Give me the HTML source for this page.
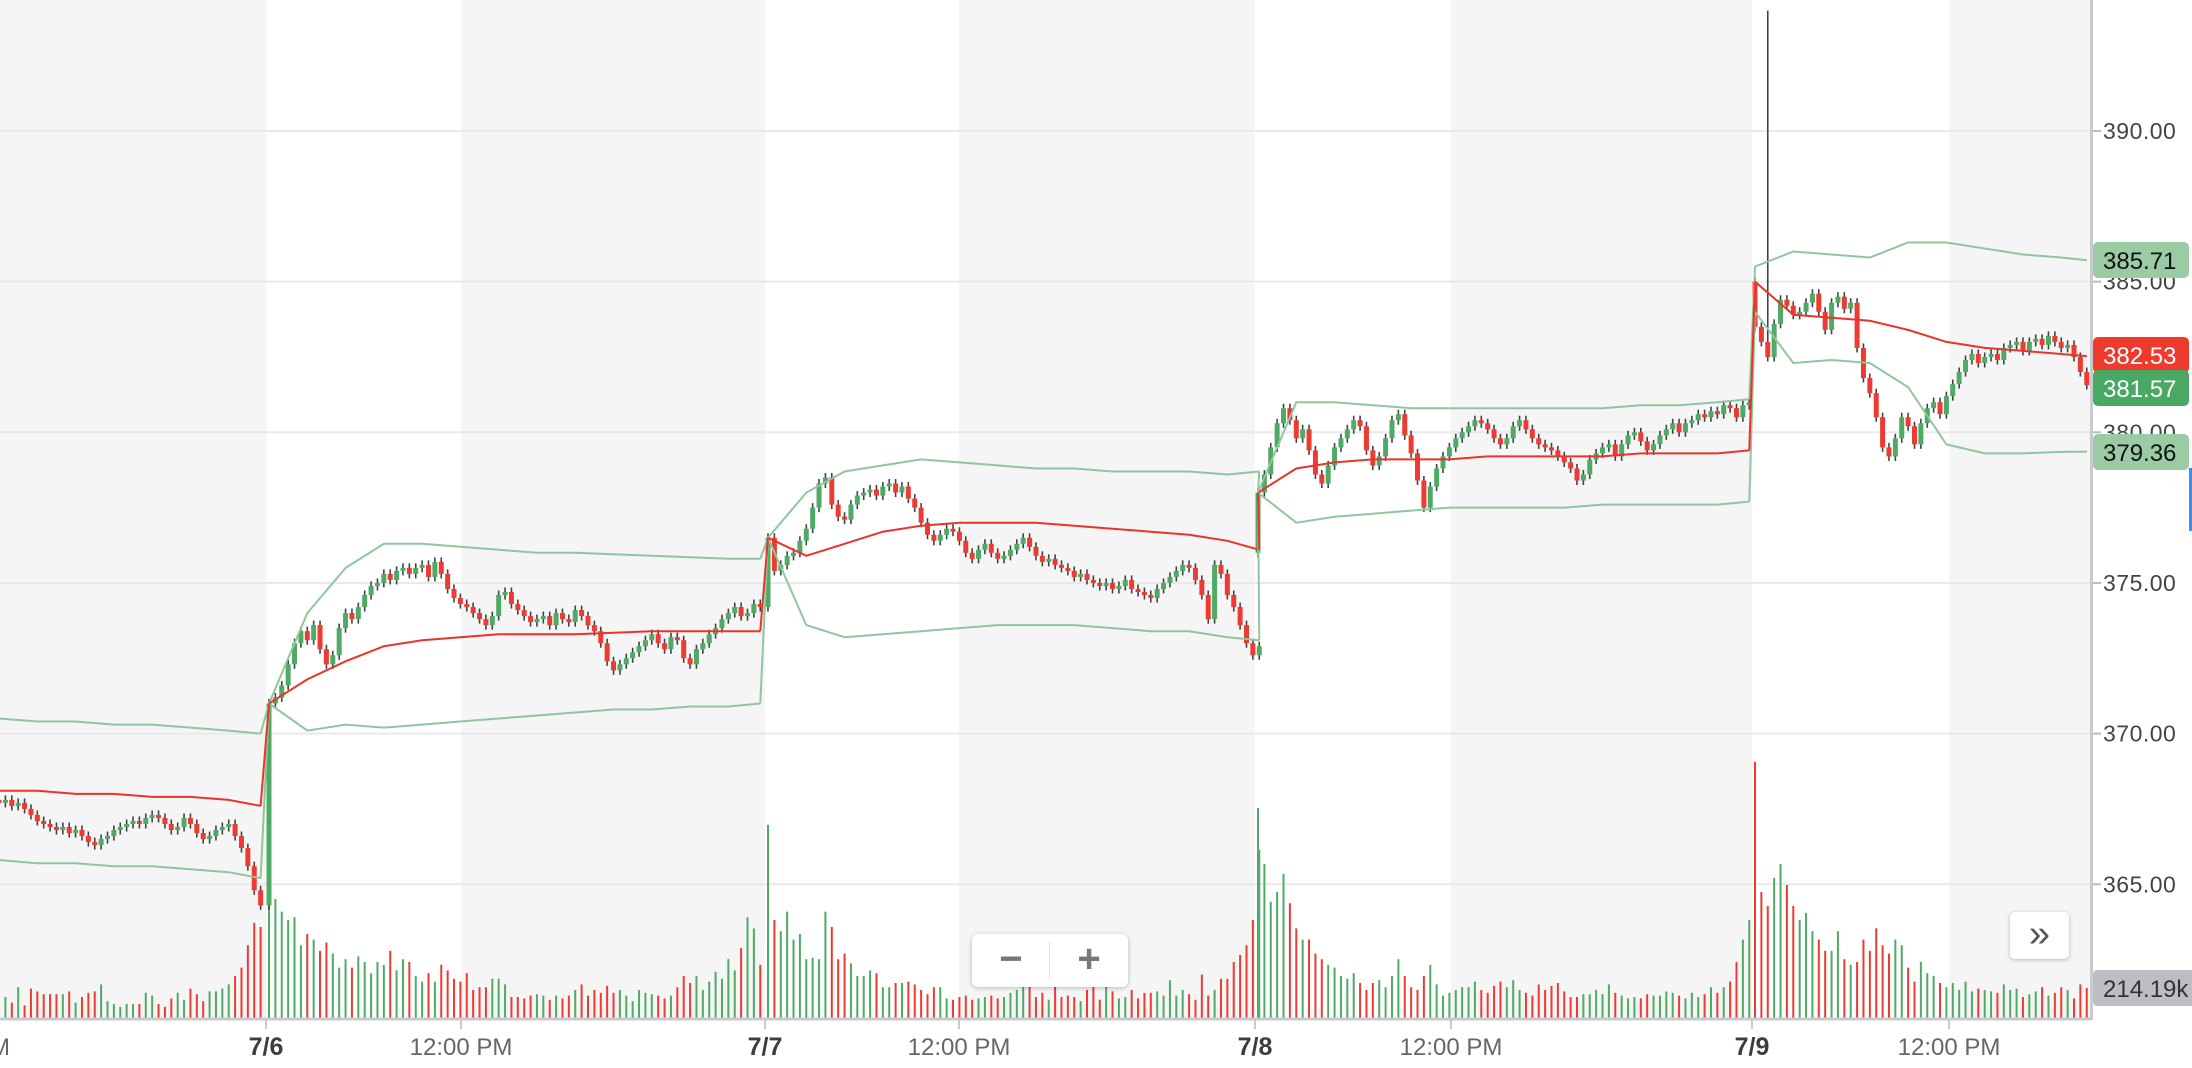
<!DOCTYPE html>
<html><head><meta charset="utf-8">
<style>
html,body{margin:0;padding:0;background:#fff;}
body{width:2192px;height:1068px;overflow:hidden;position:relative;font-family:"Liberation Sans",sans-serif;}
svg{position:absolute;left:0;top:0;}
</style></head>
<body>
<svg id="chart" width="2192" height="1068" xmlns="http://www.w3.org/2000/svg"></svg>
<div style="position:absolute;left:972px;top:934px;width:156px;height:53px;background:#fff;border-radius:6px;box-shadow:0 1px 5px rgba(0,0,0,0.25);">
  <div style="position:absolute;left:0;top:0;width:78px;height:53px;text-align:center;line-height:50px;font-size:40px;font-weight:bold;color:#777;">−</div>
  <div style="position:absolute;left:77px;top:8px;width:1px;height:37px;background:#ddd;"></div>
  <div style="position:absolute;left:78px;top:0;width:78px;height:53px;text-align:center;line-height:50px;font-size:40px;font-weight:bold;color:#777;">+</div>
</div>
<div style="position:absolute;left:2010px;top:912px;width:59px;height:47px;background:#fff;border-radius:5px;box-shadow:0 1px 4px rgba(0,0,0,0.25);text-align:center;line-height:44px;font-size:38px;color:#555;">»</div>
<div style="position:absolute;left:2189px;top:468px;width:3px;height:63px;background:#3d8bf5;"></div>
<script>
// ---- data ----
const dayLabels = ["7/6","7/7","7/8","7/9"];
const timeLabels = ["12:00 PM","12:00 PM","12:00 PM","12:00 PM"];
const priceTicks = [390,385,380,375,370,365];
const preOpen = 367.8;
const preClose = [367.7,367.8,367.6,367.7,367.5,367.3,367.1,367.0,366.9,366.8,366.9,366.7,366.8,366.6,366.4,366.3,366.5,366.6,366.8,366.9,367.0,367.1,367.0,367.2,367.3,367.2,367.0,366.8,366.9,367.2,367.0,366.7,366.5,366.6,366.8,366.9,367.0,366.6,366.2,365.6,364.8,364.3];
const d1Close = [371.0,371.2,371.6,372.3,373.0,373.4,373.1,373.6,372.8,372.3,372.6,373.5,374.0,373.8,374.2,374.6,374.9,375.0,375.3,375.1,375.4,375.5,375.3,375.5,375.6,375.2,375.7,375.3,374.8,374.5,374.3,374.2,374.0,373.8,373.6,373.9,374.6,374.7,374.3,374.1,373.9,373.7,373.8,373.9,373.6,374.0,373.8,373.7,374.1,373.9,373.6,373.4,373.0,372.4,372.1,372.3,372.5,372.7,372.9,373.1,373.3,373.0,372.8,373.2,373.1,372.5,372.3,372.8,373.0,373.3,373.5,373.8,374.0,374.2,373.9,374.0,374.3,374.2];
const d2Close = [376.5,375.4,375.6,375.9,376.0,376.4,376.8,377.5,378.3,378.5,377.6,377.2,377.1,377.6,377.9,378.0,378.1,377.9,378.2,378.3,378.0,378.2,377.8,377.5,377.0,376.6,376.4,376.6,376.8,376.7,376.4,376.0,375.8,376.1,376.3,376.0,375.8,375.9,376.1,376.3,376.5,376.2,375.9,375.7,375.8,375.6,375.5,375.4,375.2,375.3,375.1,375.0,374.9,375.0,374.8,374.9,375.1,374.8,374.7,374.6,374.5,374.8,375.0,375.2,375.4,375.6,375.5,375.1,374.6,373.8,375.6,375.3,374.6,374.2,373.6,373.0,372.6,372.9];
const d3Close = [378.0,378.6,379.5,380.3,380.8,380.4,379.8,380.1,379.4,378.6,378.3,378.9,379.5,379.8,380.1,380.4,380.2,379.4,378.9,379.2,379.8,380.4,380.6,379.9,379.3,378.4,377.5,378.2,378.8,379.2,379.5,379.8,380.0,380.2,380.4,380.3,380.1,379.8,379.6,379.8,380.2,380.4,380.1,379.8,379.6,379.5,379.4,379.2,379.0,378.8,378.4,378.6,379.1,379.3,379.5,379.6,379.2,379.6,379.9,380.0,379.7,379.4,379.6,379.9,380.1,380.3,380.0,380.3,380.4,380.6,380.5,380.7,380.6,380.9,380.8,380.5,380.9,381.0];
const d4Close = [383.5,383.0,382.5,383.6,384.4,384.2,383.9,384.0,384.3,384.6,384.0,383.4,384.3,384.5,384.1,384.3,382.8,381.8,381.3,380.5,379.5,379.2,379.8,380.5,380.2,379.6,380.3,380.8,381.0,380.6,381.2,381.6,382.0,382.4,382.6,382.3,382.5,382.6,382.4,382.8,382.9,383.0,382.7,383.0,383.1,382.9,383.2,383.0,382.8,382.9,382.5,382.0,381.57];
const d4Open0 = 385.0;
const spikeHigh = 394.0;
const preVol = [60,150,110,220,90,210,190,170,170,170,170,190,110,150,180,190,240,120,100,80,100,100,100,180,160,100,80,140,180,130,210,170,120,190,190,210,240,300,360,520,680,650];
const d1Vol = [900,850,760,700,720,520,600,560,480,540,460,360,420,360,440,400,320,400,380,480,340,420,400,300,260,320,260,380,340,280,260,320,200,220,220,280,280,240,150,150,140,160,170,160,130,160,140,160,200,240,160,200,180,230,180,200,160,120,200,180,170,160,140,160,220,300,250,300,200,260,330,280,420,340,500,720,640,380];
const d2Vol = [1380,700,620,760,560,600,420,430,420,760,650,420,460,390,300,300,340,320,220,220,250,250,260,240,200,170,220,220,140,130,150,160,130,140,150,160,140,150,180,200,250,260,150,180,130,230,150,160,150,120,200,260,130,260,190,140,150,200,140,180,180,190,160,270,160,200,170,130,310,160,200,280,280,400,450,520,700,1200];
const d3Vol = [1500,1100,830,900,1030,820,640,560,560,460,420,380,360,300,280,320,250,200,250,270,220,300,420,300,220,200,300,380,240,160,180,200,220,220,260,200,180,230,260,220,270,200,180,160,240,200,230,250,190,150,150,170,170,200,170,240,180,160,140,150,140,170,160,160,190,180,160,140,180,150,170,220,180,220,260,400,560,700];
const d4Vol = [1830,900,800,1000,1100,950,800,700,750,620,560,480,480,620,420,380,400,560,480,640,520,460,560,520,360,260,400,320,300,250,220,250,200,260,190,210,200,190,180,240,200,210,150,170,190,220,160,180,220,200,140,240,214];
// VWAP & bands, sampled every 6 bars (last point = last bar)
const preVwap = [368.1,368.1,368.0,368.0,367.9,367.9,367.8,367.6];
const preUpper = [370.5,370.4,370.4,370.3,370.3,370.2,370.1,370.0];
const preLower = [365.8,365.7,365.7,365.6,365.6,365.5,365.4,365.2];
const d1Vwap = [371.0,371.8,372.4,372.9,373.1,373.2,373.3,373.3,373.3,373.35,373.4,373.4,373.4,373.4];
const d1Upper = [371.0,374.0,375.5,376.3,376.3,376.2,376.1,376.0,376.0,375.95,375.9,375.85,375.8,375.8];
const d1Lower = [371.0,370.1,370.3,370.2,370.3,370.4,370.5,370.6,370.7,370.8,370.8,370.9,370.9,371.0];
const d2Vwap = [376.5,375.9,376.3,376.7,376.9,377.0,377.0,377.0,376.9,376.8,376.7,376.6,376.4,376.1];
const d2Upper = [376.5,378.0,378.7,378.9,379.1,379.0,378.9,378.8,378.8,378.7,378.7,378.7,378.6,378.7];
const d2Lower = [376.5,373.6,373.2,373.3,373.4,373.5,373.6,373.6,373.6,373.5,373.4,373.4,373.2,373.1];
const d3Vwap = [378.0,378.8,379.0,379.1,379.1,379.1,379.2,379.2,379.2,379.2,379.3,379.3,379.3,379.4];
const d3Upper = [378.0,381.0,381.0,380.9,380.8,380.8,380.8,380.8,380.8,380.8,380.9,380.9,381.0,381.1];
const d3Lower = [378.0,377.0,377.2,377.3,377.4,377.5,377.5,377.5,377.5,377.6,377.6,377.6,377.6,377.7];
const d4Vwap = [385.0,383.9,383.8,383.7,383.4,383.0,382.8,382.7,382.6,382.53];
const d4Upper = [385.5,386.0,385.9,385.8,386.3,386.3,386.1,385.9,385.8,385.71];
const d4Lower = [384.0,382.3,382.4,382.3,381.5,379.6,379.3,379.3,379.35,379.36];
const lastLabels = [["385.71",385.71,"#9bcba5","#111"],["382.53",382.53,"#ee3b2e","#fff"],["381.57",381.57,"#4aa865","#fff"],["379.36",379.36,"#9bcba5","#111"]];
const volLabel = "214.19k";

// ---- layout ----
const NS="http://www.w3.org/2000/svg";
const svg=document.getElementById('chart');
const AX=2091, BASE=1018, STEP=6.38;
const dayStart=[266,765,1255,1752];
const noonX=[461,959,1451,1949];
const y=p=>131+(390-p)*30.13;
const vy=v=>BASE-v*0.14;
const GREEN="#4faa66", RED="#ee3b32", WICK="#3f434a";
function mk(tag,attrs,parent){const e=document.createElementNS(NS,tag);for(const k in attrs)e.setAttribute(k,attrs[k]);(parent||svg).appendChild(e);return e;}

const bands=[[0,266],[461,765],[959,1255],[1451,1752],[1949,AX]];
bands.forEach(b=>{const r=mk('rect',{x:b[0],y:0,width:b[1]-b[0],height:BASE,fill:'#f5f5f5'});

});

priceTicks.forEach(p=>{
  const l=mk('line',{x1:0,x2:AX,y1:y(p),y2:y(p),stroke:'#e9e9e9','stroke-width':2});
  
  
  mk('line',{x1:AX,x2:AX+10,y1:y(p),y2:y(p),stroke:'#bbb','stroke-width':2});
  const t=mk('text',{x:2103,y:y(p)+8,'font-size':23,fill:'#444','letter-spacing':'0.5'});t.textContent=p.toFixed(2);
  
  
});

const segs=[
 {x0:266-STEP*42-2,close:preClose,open0:preOpen,vol:preVol,vw:preVwap,up:preUpper,lo:preLower},
 {x0:dayStart[0],close:d1Close,open0:364.3,vol:d1Vol,vw:d1Vwap,up:d1Upper,lo:d1Lower},
 {x0:dayStart[1],close:d2Close,open0:374.2,vol:d2Vol,vw:d2Vwap,up:d2Upper,lo:d2Lower},
 {x0:dayStart[2],close:d3Close,open0:376.0,vol:d3Vol,vw:d3Vwap,up:d3Upper,lo:d3Lower},
 {x0:dayStart[3],close:d4Close,open0:d4Open0,vol:d4Vol,vw:d4Vwap,up:d4Upper,lo:d4Lower}
];
const gVol=mk('g',{});
const gC=mk('g',{});
const gL=mk('g',{});
segs.forEach((s,si)=>{
  const xs=i=>s.x0+3+i*STEP;
  let prev=s.open0;
  s.close.forEach((c,i)=>{
    const o=prev; prev=c;
    const up=c>=o, col=up?GREEN:RED, x=xs(i);
    const v=s.vol[i]||0;
    const vb=mk('rect',{x:x-1,y:vy(v),width:2,height:BASE-vy(v),fill:col},gVol);
    
    
    let hi=Math.max(o,c)+0.15, lo=Math.min(o,c)-0.15;
    if(si===4&&i===2) hi=spikeHigh;
    const w=mk('line',{x1:x,x2:x,y1:y(hi),y2:y(lo),stroke:WICK,'stroke-width':1.6},gC);
    
    
    const top=y(Math.max(o,c)), h=Math.max(2,Math.abs(y(o)-y(c)));
    const b=mk('rect',{x:x-2.5,y:top,width:5,height:h,fill:col},gC);
    
    
  });
  const n=s.close.length;
  const px=k=>xs(Math.min(k*6,n-1));
  [[s.up,'#8fc79c','upper-band'],[s.lo,'#8fc79c','lower-band'],[s.vw,'#e8352a','vwap-line']].forEach(a=>{
    const pts=a[0].map((p,k)=>px(k).toFixed(1)+','+y(p).toFixed(1)).join(' ');
    const pl=mk('polyline',{points:pts,fill:'none',stroke:a[1],'stroke-width':2},gL);
    
    
  });
});
for(let d=1;d<segs.length;d++){
  const a=segs[d-1],b=segs[d];
  const xa=a.x0+3+(a.close.length-1)*STEP, xb=b.x0+3;
  [['up','#8fc79c'],['lo','#8fc79c'],['vw','#e8352a']].forEach(k=>{
    const l=mk('line',{x1:xa,y1:y(a[k[0]][a[k[0]].length-1]),x2:xb,y2:y(b[k[0]][0]),stroke:k[1],'stroke-width':2},gL);
    
    
  });
}

mk('rect',{x:AX-1,y:0,width:3,height:BASE+2,fill:'#c8cacd'});
mk('line',{x1:0,x2:AX,y1:BASE+1,y2:BASE+1,stroke:'#c8cacd','stroke-width':3});
const tickT=(x,txt,bold)=>{
  mk('line',{x1:x,x2:x,y1:BASE,y2:BASE+11,stroke:'#c8cacd','stroke-width':2});
  const t=mk('text',{x:x,y:1055,'font-size':bold?25:24,'text-anchor':'middle',fill:bold?'#3a3d42':'#666','font-weight':bold?'bold':'normal'});
  t.textContent=txt;
  
  
};
dayStart.forEach((x,i)=>tickT(x,dayLabels[i],true));
noonX.forEach((x,i)=>tickT(x,timeLabels[i],false));
const tm=mk('text',{x:-10,y:1055,'font-size':24,fill:'#666'});tm.textContent='M';



const labY=[260,355,388,452];
lastLabels.forEach((L,i)=>{
  const cy=labY[i];
  const r=mk('rect',{x:AX+2,y:cy-18,width:96,height:36,rx:5,fill:L[2]});
  
  
  const t=mk('text',{x:2103,y:cy+9,'font-size':24,fill:L[3]});t.textContent=L[0];
  
  
});
const vr=mk('rect',{x:AX+2,y:970,width:110,height:36,rx:4,fill:'#bcbec4'});


const vt=mk('text',{x:2103,y:997,'font-size':24,fill:'#333'});vt.textContent=volLabel;


</script>
</body></html>
